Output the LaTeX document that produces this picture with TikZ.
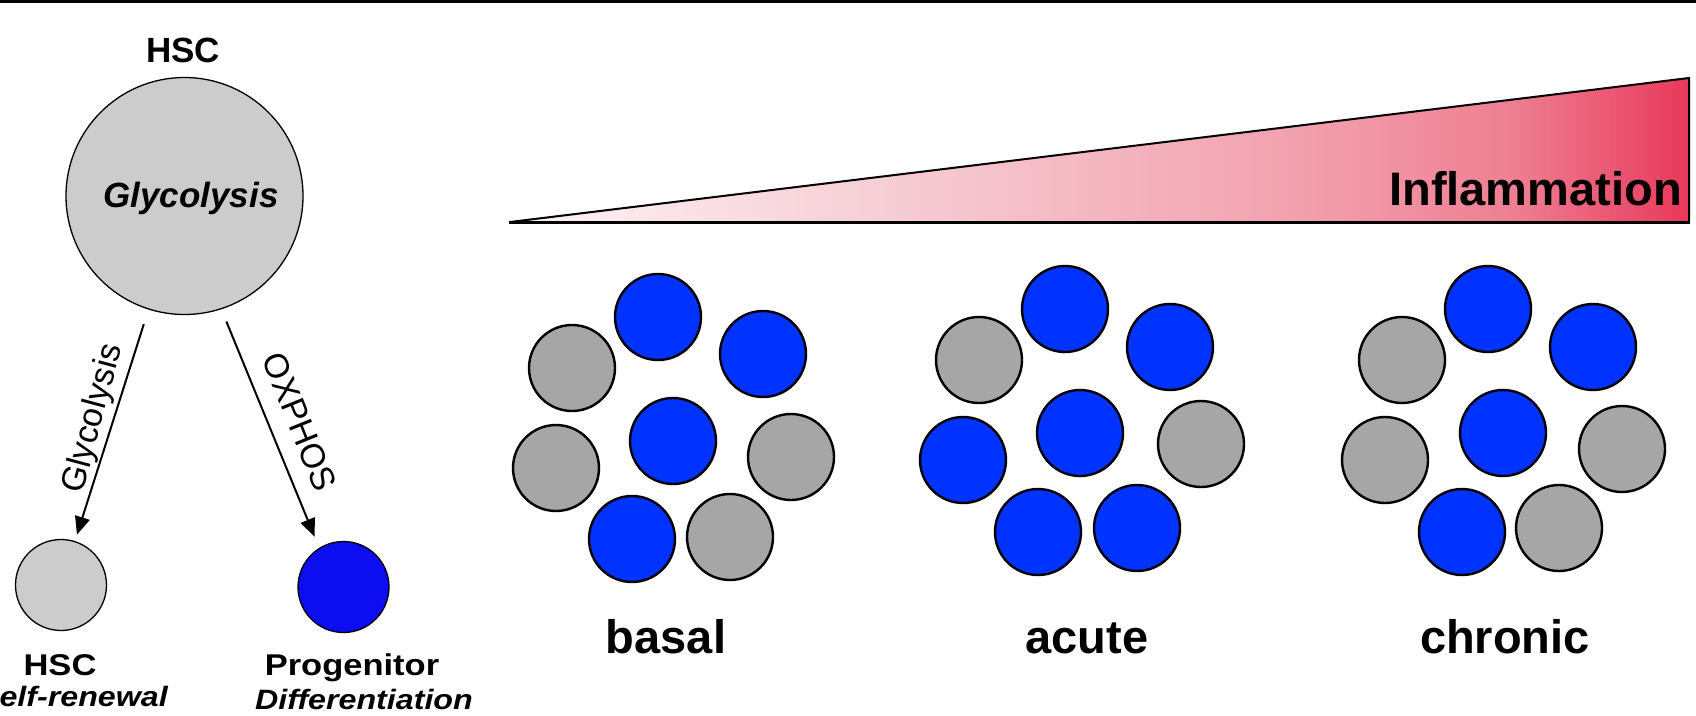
\documentclass[tikz,border=0pt]{standalone}
\usepackage{fontspec}
\setmainfont{Liberation Sans}
\newfontfamily\widesans[FakeStretch=1.15]{Liberation Sans}
\usetikzlibrary{arrows.meta,calc}

\definecolor{cellgray}{HTML}{A6A6A6}
\definecolor{cellblue}{HTML}{0033FF}
\definecolor{hscgray}{HTML}{CCCCCC}
\definecolor{progblue}{HTML}{0D0DF2}
\definecolor{infA}{HTML}{FDF3F5}
\definecolor{infB}{HTML}{F6CCD4}
\definecolor{infC}{HTML}{F2A0AE}
\definecolor{infD}{HTML}{EE7F92}
\definecolor{infE}{HTML}{E8385A}

% inflammation wedge gradient (path box maps to 25bp..75bp)
\pgfdeclarehorizontalshading{inflam}{100bp}{color(0bp)=(infA); color(25bp)=(infA); color(41.5bp)=(infB); color(58.5bp)=(infC); color(67.5bp)=(infD); color(75bp)=(infE); color(100bp)=(infE)}

\begin{document}
\begin{tikzpicture}[x=1pt,y=-1pt,
  cell/.style={circle, draw=black, line width=2.4pt, minimum size=86pt, inner sep=0pt, outer sep=0pt},
  gcell/.style={cell, fill=cellgray},
  bcell/.style={cell, fill=cellblue},
  fate/.style={circle, draw=black, line width=1.3pt, minimum size=91pt, inner sep=0pt, outer sep=0pt},
  arr/.style={line width=2pt, -{Triangle[length=18pt,width=15pt]}},
  biglbl/.style={font=\fontsize{47pt}{47pt}\selectfont\bfseries, inner sep=0pt, anchor=base},
  pathlbl/.style={font=\fontsize{34pt}{34pt}\selectfont, inner sep=0pt},
  celllbl/.style={font=\widesans\fontsize{30pt}{30pt}\selectfont\bfseries, inner sep=0pt},
  rolelbl/.style={font=\widesans\fontsize{28pt}{28pt}\selectfont\bfseries\itshape, inner sep=0pt}
]
\useasboundingbox (0,0) rectangle (1696,715);

% top rule
\fill[black] (0,0) rectangle (1696,3);

% ---- lineage decision ----
\node[biglbl, font=\fontsize{35pt}{35pt}\selectfont\bfseries] (hsctop) at (183,62) {HSC};
\node[circle, draw=black, line width=1.3pt, fill=hscgray, minimum size=237pt, inner sep=0pt, outer sep=0pt] (hsc) at (184.5,196) {};
\node[biglbl, font=\fontsize{35pt}{35pt}\selectfont\bfseries\itshape] (hscmeta) at (191,207) {Glycolysis};

\node[fate, fill=hscgray] (renew) at (61,585) {};
\node[fate, fill=progblue] (prog) at (343.5,587) {};

\draw[arr, shorten <=16pt, shorten >=7.3pt] (hsc) -- (renew);
\draw[arr, shorten <=13.9pt, shorten >=12.7pt] (hsc.-72.2) -- (prog.122.7);

\node[pathlbl, rotate=75, anchor=base] (glylbl) at (102,421) {Glycolysis};
\node[pathlbl, rotate=-68] (oxlbl) at (300,422) {OXPHOS};

\node[celllbl, anchor=base] (renewname) at (60,675) {HSC};
\node[rolelbl, anchor=base east] (renewrole) at (168,706) {Self-renewal};
\node[celllbl, anchor=base] (progname) at (352,675) {Progenitor};
\node[rolelbl, anchor=base] (progrole) at (364,709) {Differentiation};

% ---- inflammation wedge ----
\shade[shading=inflam] (510,222) -- (1689,78) -- (1689,222) -- cycle;
\draw[line width=2pt, line join=miter] (510,222) -- (1689,78) -- (1689,222);
\draw[line width=2.6pt] (509,222.5) -- (1690,222.5);
\node[biglbl, anchor=base east] (inflam) at (1682,205) {Inflammation};

% ---- basal ----
\node[bcell] (b1) at (658,317) {};
\node[bcell] (b2) at (763,354) {};
\node[gcell] (b3) at (572,368) {};
\node[bcell] (b4) at (673,441) {};
\node[gcell] (b5) at (556,468) {};
\node[gcell] (b6) at (791,457) {};
\node[bcell] (b7) at (632,539) {};
\node[gcell] (b8) at (730,537) {};
\node[biglbl] (basal) at (666,653) {basal};

% ---- acute ----
\node[bcell] (a1) at (1065,309) {};
\node[bcell] (a2) at (1170,347) {};
\node[gcell] (a3) at (979,360) {};
\node[bcell] (a4) at (1080,433) {};
\node[bcell] (a5) at (963,460) {};
\node[gcell] (a6) at (1201,444) {};
\node[bcell] (a7) at (1038,532) {};
\node[bcell] (a8) at (1137,528) {};
\node[biglbl] (acute) at (1087,653) {acute};

% ---- chronic ----
\node[bcell] (c1) at (1488,309) {};
\node[bcell] (c2) at (1593,347) {};
\node[gcell] (c3) at (1402,360) {};
\node[bcell] (c4) at (1503,433) {};
\node[gcell] (c5) at (1385,460) {};
\node[gcell] (c6) at (1622,449) {};
\node[bcell] (c7) at (1462,532) {};
\node[gcell] (c8) at (1559,528) {};
\node[biglbl] (chronic) at (1505,653) {chronic};
\end{tikzpicture}
\end{document}
